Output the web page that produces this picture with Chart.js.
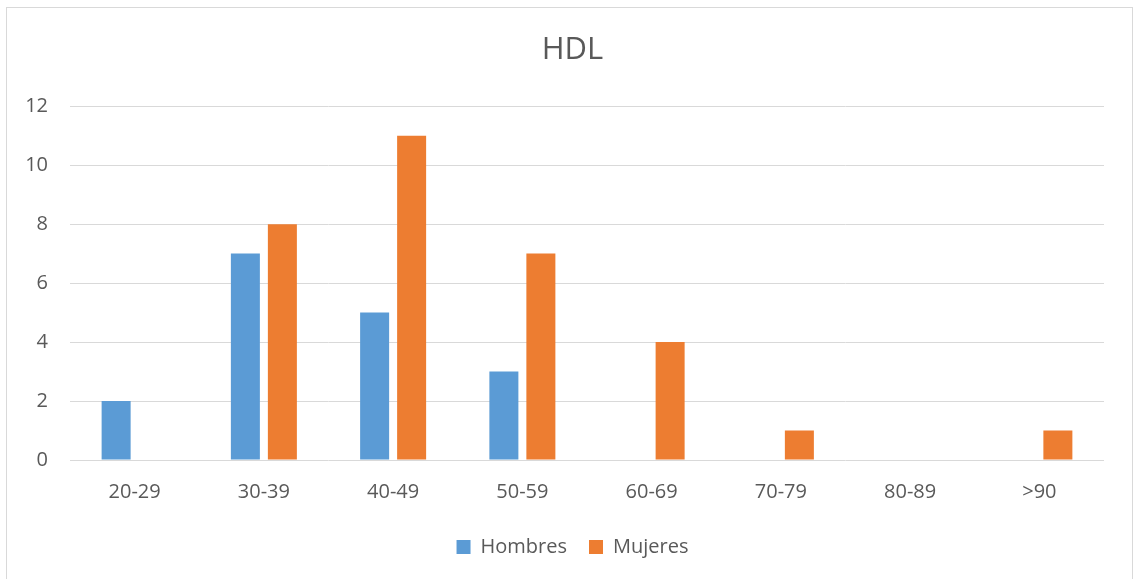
<!DOCTYPE html>
<html>
<head>
<meta charset="utf-8">
<script src="https://cdn.jsdelivr.net/npm/chart.js@4.4.1/dist/chart.umd.min.js"></script>
<style>
html,body{margin:0;padding:0;background:#fff;overflow:hidden;}
#frame{position:absolute;left:6px;top:7px;width:1127px;height:600px;box-sizing:border-box;border:1px solid #d9d9d9;}
#wrap{position:absolute;left:0;top:0;width:1133px;height:579px;}
</style>
</head>
<body>
<div id="frame"></div>
<div id="wrap"><canvas id="c" width="1133" height="579"></canvas></div>
<script>
const titleText = "HDL";
const categories = ["20-29","30-39","40-49","50-59","60-69","70-79","80-89",">90"];
const hombres = [2,7,5,3,0,0,0,0];
const mujeres = [0,8,11,7,4,1,0,1];
const seriesNames = ["Hombres","Mujeres"];
const yTicks = [0,2,4,6,8,10,12];

const textColor = "#595959";
const fontFamily = "'Open Sans', 'Liberation Sans', sans-serif";
const padBottom = 12;

new Chart(document.getElementById('c'), {
  type: 'bar',
  data: {
    labels: categories,
    datasets: [
      {label: seriesNames[0], data: hombres, backgroundColor: '#5B9BD5', borderWidth: 0},
      {label: seriesNames[1], data: mujeres, backgroundColor: '#ED7D31', borderWidth: 0}
    ]
  },
  options: {
    responsive: false,
    animation: false,
    devicePixelRatio: 1,
    categoryPercentage: 0.5725,
    barPercentage: 0.784,
    layout: {padding: {left: 12, right: 0, top: 0, bottom: padBottom}},
    plugins: {
      title: {
        display: true, text: titleText, color: textColor,
        font: {family: fontFamily, size: 31, weight: 'normal'},
        padding: {top: 32, bottom: 37}
      },
      legend: {
        display: true, position: 'bottom',
        labels: {
          color: textColor, boxWidth: 14, boxHeight: 14, padding: 22,
          font: {family: fontFamily, size: 20}
        }
      },
      tooltip: {enabled: false}
    },
    scales: {
      x: {
        grid: {display: false, drawTicks: false},
        border: {display: false},
        afterFit: (s) => {
          const lg = s.chart.legend ? s.chart.legend.height : 0;
          s.height = s.chart.height - padBottom - lg - 460;
        },
        ticks: {color: textColor, font: {family: fontFamily, size: 20}, padding: 20, maxRotation: 0}
      },
      y: {
        min: 0, max: 12,
        afterBuildTicks: (s) => { s.ticks = yTicks.map(v => ({value: v})); },
        afterFit: (s) => { s.width = 58; },
        grid: {color: '#d9d9d9', lineWidth: 1, drawTicks: false},
        border: {display: false},
        ticks: {color: textColor, font: {family: fontFamily, size: 20}, padding: 22}
      },
      yRight: {
        position: 'right', display: true,
        grid: {display: false, drawTicks: false},
        border: {display: false},
        ticks: {display: false},
        afterFit: (s) => { s.width = 29; }
      }
    }
  }
});
</script>
</body>
</html>
